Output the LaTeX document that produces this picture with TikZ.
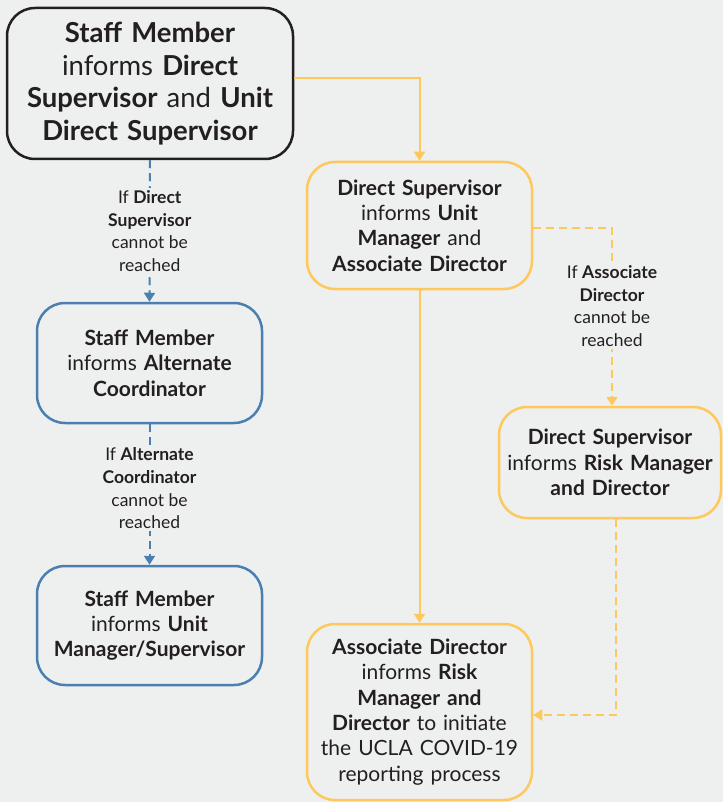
\documentclass[tikz,border=0pt]{standalone}
\usepackage{fontspec}
\setmainfont{Lato}
\usepackage{tikz}
\usetikzlibrary{arrows.meta}
\definecolor{bgcol}{HTML}{EEF0EF}
\definecolor{txtcol}{HTML}{231F20}
\definecolor{uclagold}{HTML}{FDC85C}
\definecolor{uclablue}{HTML}{4A7FB0}

\begin{document}
\begin{tikzpicture}[x=1pt, y=-1pt, >={Triangle[width=11pt,length=9pt]},
  box/.style={draw, rounded corners=28pt, line width=2.5pt, align=center, text=txtcol,
    minimum width=225pt, minimum height=121pt, text width=222pt, inner sep=0pt,
    font=\fontsize{21}{25.3}\selectfont},
  goldbox/.style={box, draw=uclagold},
  bluebox/.style={box, draw=uclablue},
  link/.style={line width=2pt, ->},
  cond/.style={fill=bgcol, align=center, text=txtcol, inner sep=2pt,
    font=\fontsize{17.5}{22.7}\selectfont}]

\useasboundingbox (0,0) rectangle (723,802);
\fill[bgcol] (0,0) rectangle (723,802);

\node[box, draw=txtcol, minimum width=286pt, minimum height=151pt, text width=284pt,
  font=\fontsize{27.5}{32.8}\selectfont] (staff) at (150,83.5)
  {\textbf{Staff Member}\\ informs \textbf{Direct}\\ \textbf{Supervisor} and \textbf{Unit}\\ \textbf{Direct Supervisor}};

\node[goldbox, minimum height=127pt] (dsup) at (419.5,225.5)
  {\textbf{Direct Supervisor}\\ informs \textbf{Unit}\\ \textbf{Manager} and\\ \textbf{Associate Director}};

\node[bluebox, minimum height=120pt] (alt) at (149.5,363)
  {\textbf{Staff Member}\\ informs \textbf{Alternate}\\ \textbf{Coordinator}};

\node[bluebox, minimum height=119pt] (unit) at (149.5,625.5)
  {\textbf{Staff Member}\\ informs \textbf{Unit}\\ \textbf{Manager/Supervisor}};

\node[goldbox, minimum width=222pt, minimum height=111pt] (risk) at (610,462.5)
  {\textbf{Direct Supervisor}\\ informs \textbf{Risk Manager}\\ \textbf{and Director}};

\node[goldbox, minimum height=176pt] (assoc) at (419.5,712)
  {\textbf{Associate Director}\\ informs \textbf{Risk}\\ \textbf{Manager and}\\ \textbf{Director} to initiate\\ the UCLA COVID-19\\ reporting process};

% solid path
\draw[link, uclagold] ([yshift=5.5pt]staff.east) -| (dsup.north);
\draw[link, uclagold] (dsup.south) -- (assoc.north);

% fallback paths
\draw[link, uclablue, dash pattern=on 8pt off 5pt] (staff.south) -- node[cond]
  {If \textbf{Direct}\\ \textbf{Supervisor}\\ cannot be\\ reached} (alt.north);
\draw[link, uclablue, dash pattern=on 8pt off 5pt] (alt.south) -- node[cond, yshift=6pt]
  {If \textbf{Alternate}\\ \textbf{Coordinator}\\ cannot be\\ reached} (unit.north);
\draw[link, uclagold, dash pattern=on 8pt off 5pt] ([yshift=-2.5pt]dsup.east) -| node[cond, pos=0.72]
  {If \textbf{Associate}\\ \textbf{Director}\\ cannot be\\ reached} ([xshift=2pt]risk.north);
\draw[link, uclagold, dash pattern=on 8pt off 5pt] ([xshift=6pt]risk.south) |- ([yshift=-3pt]assoc.east);

\end{tikzpicture}
\end{document}
